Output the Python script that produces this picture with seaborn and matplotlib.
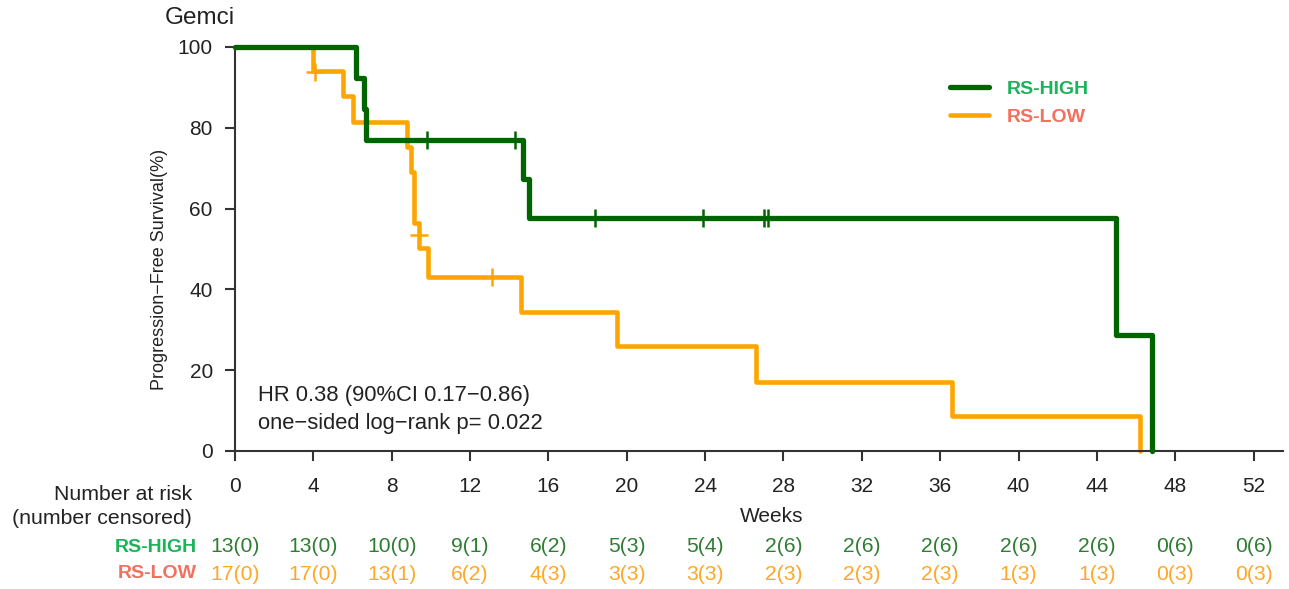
import matplotlib
matplotlib.use('Agg')
import matplotlib.pyplot as plt
import matplotlib.transforms as mtransforms
import seaborn as sns
import pandas as pd

# ---------------- data ----------------
weeks_ticks = [0, 4, 8, 12, 16, 20, 24, 28, 32, 36, 40, 44, 48, 52]
y_ticks = [0, 20, 40, 60, 80, 100]

high_time = [0, 6.2, 6.6, 6.7, 14.7, 15.0, 45.0, 46.8]
high_surv = [100, 92.3, 84.6, 76.9, 67.3, 57.7, 28.8, 0]
high_cens_time = [9.8, 14.3, 18.4, 23.9, 27.0, 27.2]
high_cens_surv = [76.9, 76.9, 57.7, 57.7, 57.7, 57.7]

low_time = [0, 4.0, 5.5, 6.0, 8.8, 9.0, 9.13, 9.39, 9.85, 14.6, 19.5, 26.6, 36.6, 46.2]
low_surv = [100, 94.1, 87.8, 81.5, 75.2, 69.0, 56.4, 50.3, 43.1, 34.5, 25.9, 17.2, 8.6, 0]
low_cens_time = [4.08, 9.39, 13.1]
low_cens_surv = [93.9, 53.5, 43.1]

risk_high = ["13(0)", "13(0)", "10(0)", "9(1)", "6(2)", "5(3)", "5(4)",
             "2(6)", "2(6)", "2(6)", "2(6)", "2(6)", "0(6)", "0(6)"]
risk_low = ["17(0)", "17(0)", "13(1)", "6(2)", "4(3)", "3(3)", "3(3)",
            "2(3)", "2(3)", "2(3)", "1(3)", "1(3)", "0(3)", "0(3)"]

group_names = ["RS-HIGH", "RS-LOW"]
# ---------------------------------------

GREEN = "#006400"
ORANGE = "#FFA500"
GREEN_TXT = "#1DB35A"
SALMON_TXT = "#F2705E"
GREEN_NUM = "#2E7D32"
ORANGE_NUM = "#FFA726"
DARK = "#222222"

sns.set_theme(style="white")
plt.rcParams['font.family'] = ['Liberation Sans', 'DejaVu Sans']

W, H = 1289, 589
fig = plt.figure(figsize=(W / 100, H / 100), dpi=100)
ax = fig.add_axes([235 / W, 1 - 451 / H, (1283 - 235) / W, (451 - 47) / H])

df_high = pd.DataFrame({"t": high_time, "s": high_surv})
df_low = pd.DataFrame({"t": low_time, "s": low_surv})

sns.lineplot(data=df_high, x="t", y="s", drawstyle="steps-post", color=GREEN,
             lw=3.8, ax=ax, estimator=None, sort=False, clip_on=False,
             label=group_names[0], zorder=3)
sns.lineplot(data=df_low, x="t", y="s", drawstyle="steps-post", color=ORANGE,
             lw=3.3, ax=ax, estimator=None, sort=False, clip_on=False,
             label=group_names[1], zorder=2)

sns.scatterplot(x=high_cens_time, y=high_cens_surv, marker="+", s=150,
                color=GREEN, linewidth=1.8, ax=ax, zorder=4, clip_on=False,
                legend=False)
sns.scatterplot(x=low_cens_time, y=low_cens_surv, marker="+", s=150,
                color=ORANGE, linewidth=1.8, ax=ax, zorder=4, clip_on=False,
                legend=False)

ax.set_xlim(0, 53.5)
ax.set_ylim(0, 100)
ax.set_xticks(weeks_ticks)
ax.set_yticks(y_ticks)
ax.set_xticklabels([str(v) for v in weeks_ticks])
ax.set_yticklabels([str(v) for v in y_ticks])
for s in ["top", "right"]:
    ax.spines[s].set_visible(False)
for s in ["left", "bottom"]:
    ax.spines[s].set_color("#333333")
    ax.spines[s].set_linewidth(1.5)
ax.tick_params(axis="both", which="major", direction="out", length=7,
               width=1.5, color="#333333", labelsize=15, labelcolor=DARK,
               left=True, bottom=True)
ax.tick_params(axis="x", pad=12)
ax.tick_params(axis="y", pad=9)

ax.set_ylabel("Progression\u2212Free Survival(%)", fontsize=13, color=DARK)
ax.yaxis.set_label_coords(-0.064, 0.45)
ax.set_xlabel("Weeks", fontsize=15, color=DARK)
ax.xaxis.set_label_coords((772 - 235) / 1048, -(516 - 451) / 404)
ax.xaxis.label.set_va("center")

fig.text(165 / W, 1 - 18 / H, "Gemci", fontsize=17.5, color=DARK,
         ha="left", va="center")

pix = mtransforms.Affine2D().scale(1, -1).translate(0, H)
ax.text(258, 396, "HR 0.38 (90%CI 0.17\u22120.86)", fontsize=15.8, color=DARK,
        ha="left", va="center", transform=pix)
ax.text(258, 424, "one\u2212sided log\u2212rank p= 0.022", fontsize=15.8, color=DARK,
        ha="left", va="center", transform=pix)

leg = ax.legend(loc="upper left", bbox_to_anchor=(950 / W, 1 - 80 / H),
                bbox_transform=fig.transFigure, frameon=False,
                handlelength=2.0, handletextpad=0.9, labelspacing=0.55,
                borderpad=0, borderaxespad=0,
                prop={"weight": "bold", "size": 14})
for txt, c in zip(leg.get_texts(), [GREEN_TXT, SALMON_TXT]):
    txt.set_color(c)
for ln in leg.get_lines():
    ln.set_solid_capstyle("round")

# risk table
fig.text(192 / W, 1 - 494 / H, "Number at risk", fontsize=15.3, color=DARK,
         ha="right", va="center")
fig.text(192 / W, 1 - 518 / H, "(number censored)", fontsize=15.3, color=DARK,
         ha="right", va="center")
fig.text(197 / W, 1 - 547 / H, group_names[0], fontsize=14, weight="bold",
         color=GREEN_TXT, ha="right", va="center")
fig.text(197 / W, 1 - 574 / H, group_names[1], fontsize=14, weight="bold",
         color=SALMON_TXT, ha="right", va="center")
blend = mtransforms.blended_transform_factory(ax.transData, fig.transFigure)
for xv, rh, rl in zip(weeks_ticks, risk_high, risk_low):
    ax.text(xv, 1 - 547 / H, rh, fontsize=15.2, color=GREEN_NUM, ha="center",
            va="center", transform=blend, clip_on=False)
    ax.text(xv, 1 - 574 / H, rl, fontsize=15.2, color=ORANGE_NUM, ha="center",
            va="center", transform=blend, clip_on=False)

fig.savefig("out.png", dpi=100)
